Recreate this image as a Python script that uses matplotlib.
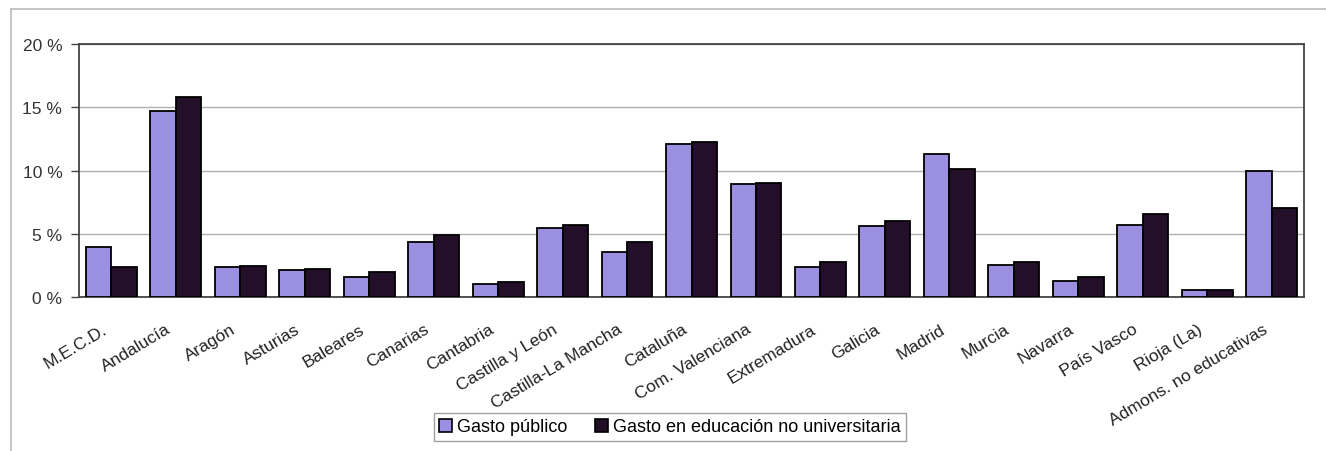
import matplotlib
matplotlib.use("Agg")
import matplotlib.pyplot as plt
import numpy as np
from matplotlib.patches import Rectangle
from matplotlib.lines import Line2D
from matplotlib.transforms import ScaledTranslation

categories = ["M.E.C.D.", "Andalucía", "Aragón", "Asturias", "Baleares", "Canarias",
              "Cantabria", "Castilla y León", "Castilla-La Mancha", "Cataluña",
              "Com. Valenciana", "Extremadura", "Galicia", "Madrid", "Murcia",
              "Navarra", "País Vasco", "Rioja (La)", "Admons. no educativas"]
gasto_publico = [3.95, 14.7, 2.4, 2.1, 1.6, 4.35, 1.0, 5.45, 3.55, 12.1,
                 8.95, 2.35, 5.6, 11.3, 2.55, 1.3, 5.7, 0.55, 9.95]
gasto_no_univ = [2.35, 15.8, 2.45, 2.2, 1.95, 4.9, 1.15, 5.7, 4.35, 12.25,
                 9.0, 2.75, 6.0, 10.1, 2.8, 1.6, 6.6, 0.55, 7.0]
series_names = ["Gasto público", "Gasto en educación no universitaria"]
yticks = [0, 5, 10, 15, 20]
ytick_labels = ["0 %", "5 %", "10 %", "15 %", "20 %"]

plt.rcParams['font.family'] = ['Liberation Sans', 'DejaVu Sans']

W, H = 1326, 452
fig = plt.figure(figsize=(W / 100, H / 100), dpi=100)
ax = fig.add_axes([79 / W, 1 - 298 / H, (1304 - 79) / W, (298 - 45) / H])

c1 = "#9a8fe0"
c2 = "#231028"
x = np.arange(len(categories))
bw = 0.395
ax.bar(x - bw / 2, gasto_publico, bw, color=c1, edgecolor="black", linewidth=1.3, zorder=3)
ax.bar(x + bw / 2, gasto_no_univ, bw, color=c2, edgecolor="black", linewidth=1.3, zorder=3)

ax.set_xlim(-0.5, len(categories) - 0.5)
ax.set_ylim(0, 20)
ax.set_yticks(yticks)
ax.set_yticklabels(ytick_labels, fontsize=12.5, color="#333333")
ax.set_xticks(x)
ax.set_xticklabels(categories, rotation=31, ha="right", va="center",
                   rotation_mode="anchor", fontsize=12.5, color="#222222")
ax.tick_params(axis="x", length=0, pad=22)
offset = ScaledTranslation(-6 / 100, 0, fig.dpi_scale_trans)
for lab in ax.get_xticklabels():
    lab.set_transform(lab.get_transform() + offset)
ax.tick_params(axis="y", length=6, width=1, color="#444444", pad=6)
ax.yaxis.grid(True, color="#b0b0b0", linewidth=1)
ax.set_axisbelow(True)
for s in ax.spines.values():
    s.set_color("#444444")
    s.set_linewidth(1.3)

handles = [Rectangle((0, 0), 1, 1, facecolor=c1, edgecolor="black", linewidth=1.2),
           Rectangle((0, 0), 1, 1, facecolor=c2, edgecolor="black", linewidth=1.2)]
leg = fig.legend(handles, series_names, loc="center", bbox_to_anchor=(670 / W, 1 - 428 / H),
                 ncol=2, fontsize=13, frameon=True, fancybox=False, edgecolor="#888888",
                 handlelength=0.7, handleheight=0.7, handletextpad=0.3, columnspacing=1.5,
                 borderpad=0.3, borderaxespad=0)
leg.get_frame().set_linewidth(1.0)

# outer chart frame
fig.add_artist(Line2D([11 / W, 11 / W], [0, 1 - 10 / H], color="#bbbbbb", linewidth=1.2,
                      transform=fig.transFigure))
fig.add_artist(Line2D([11 / W, 1], [1 - 10 / H, 1 - 10 / H], color="#bbbbbb", linewidth=1.2,
                      transform=fig.transFigure))

fig.savefig("out.png", dpi=100)
